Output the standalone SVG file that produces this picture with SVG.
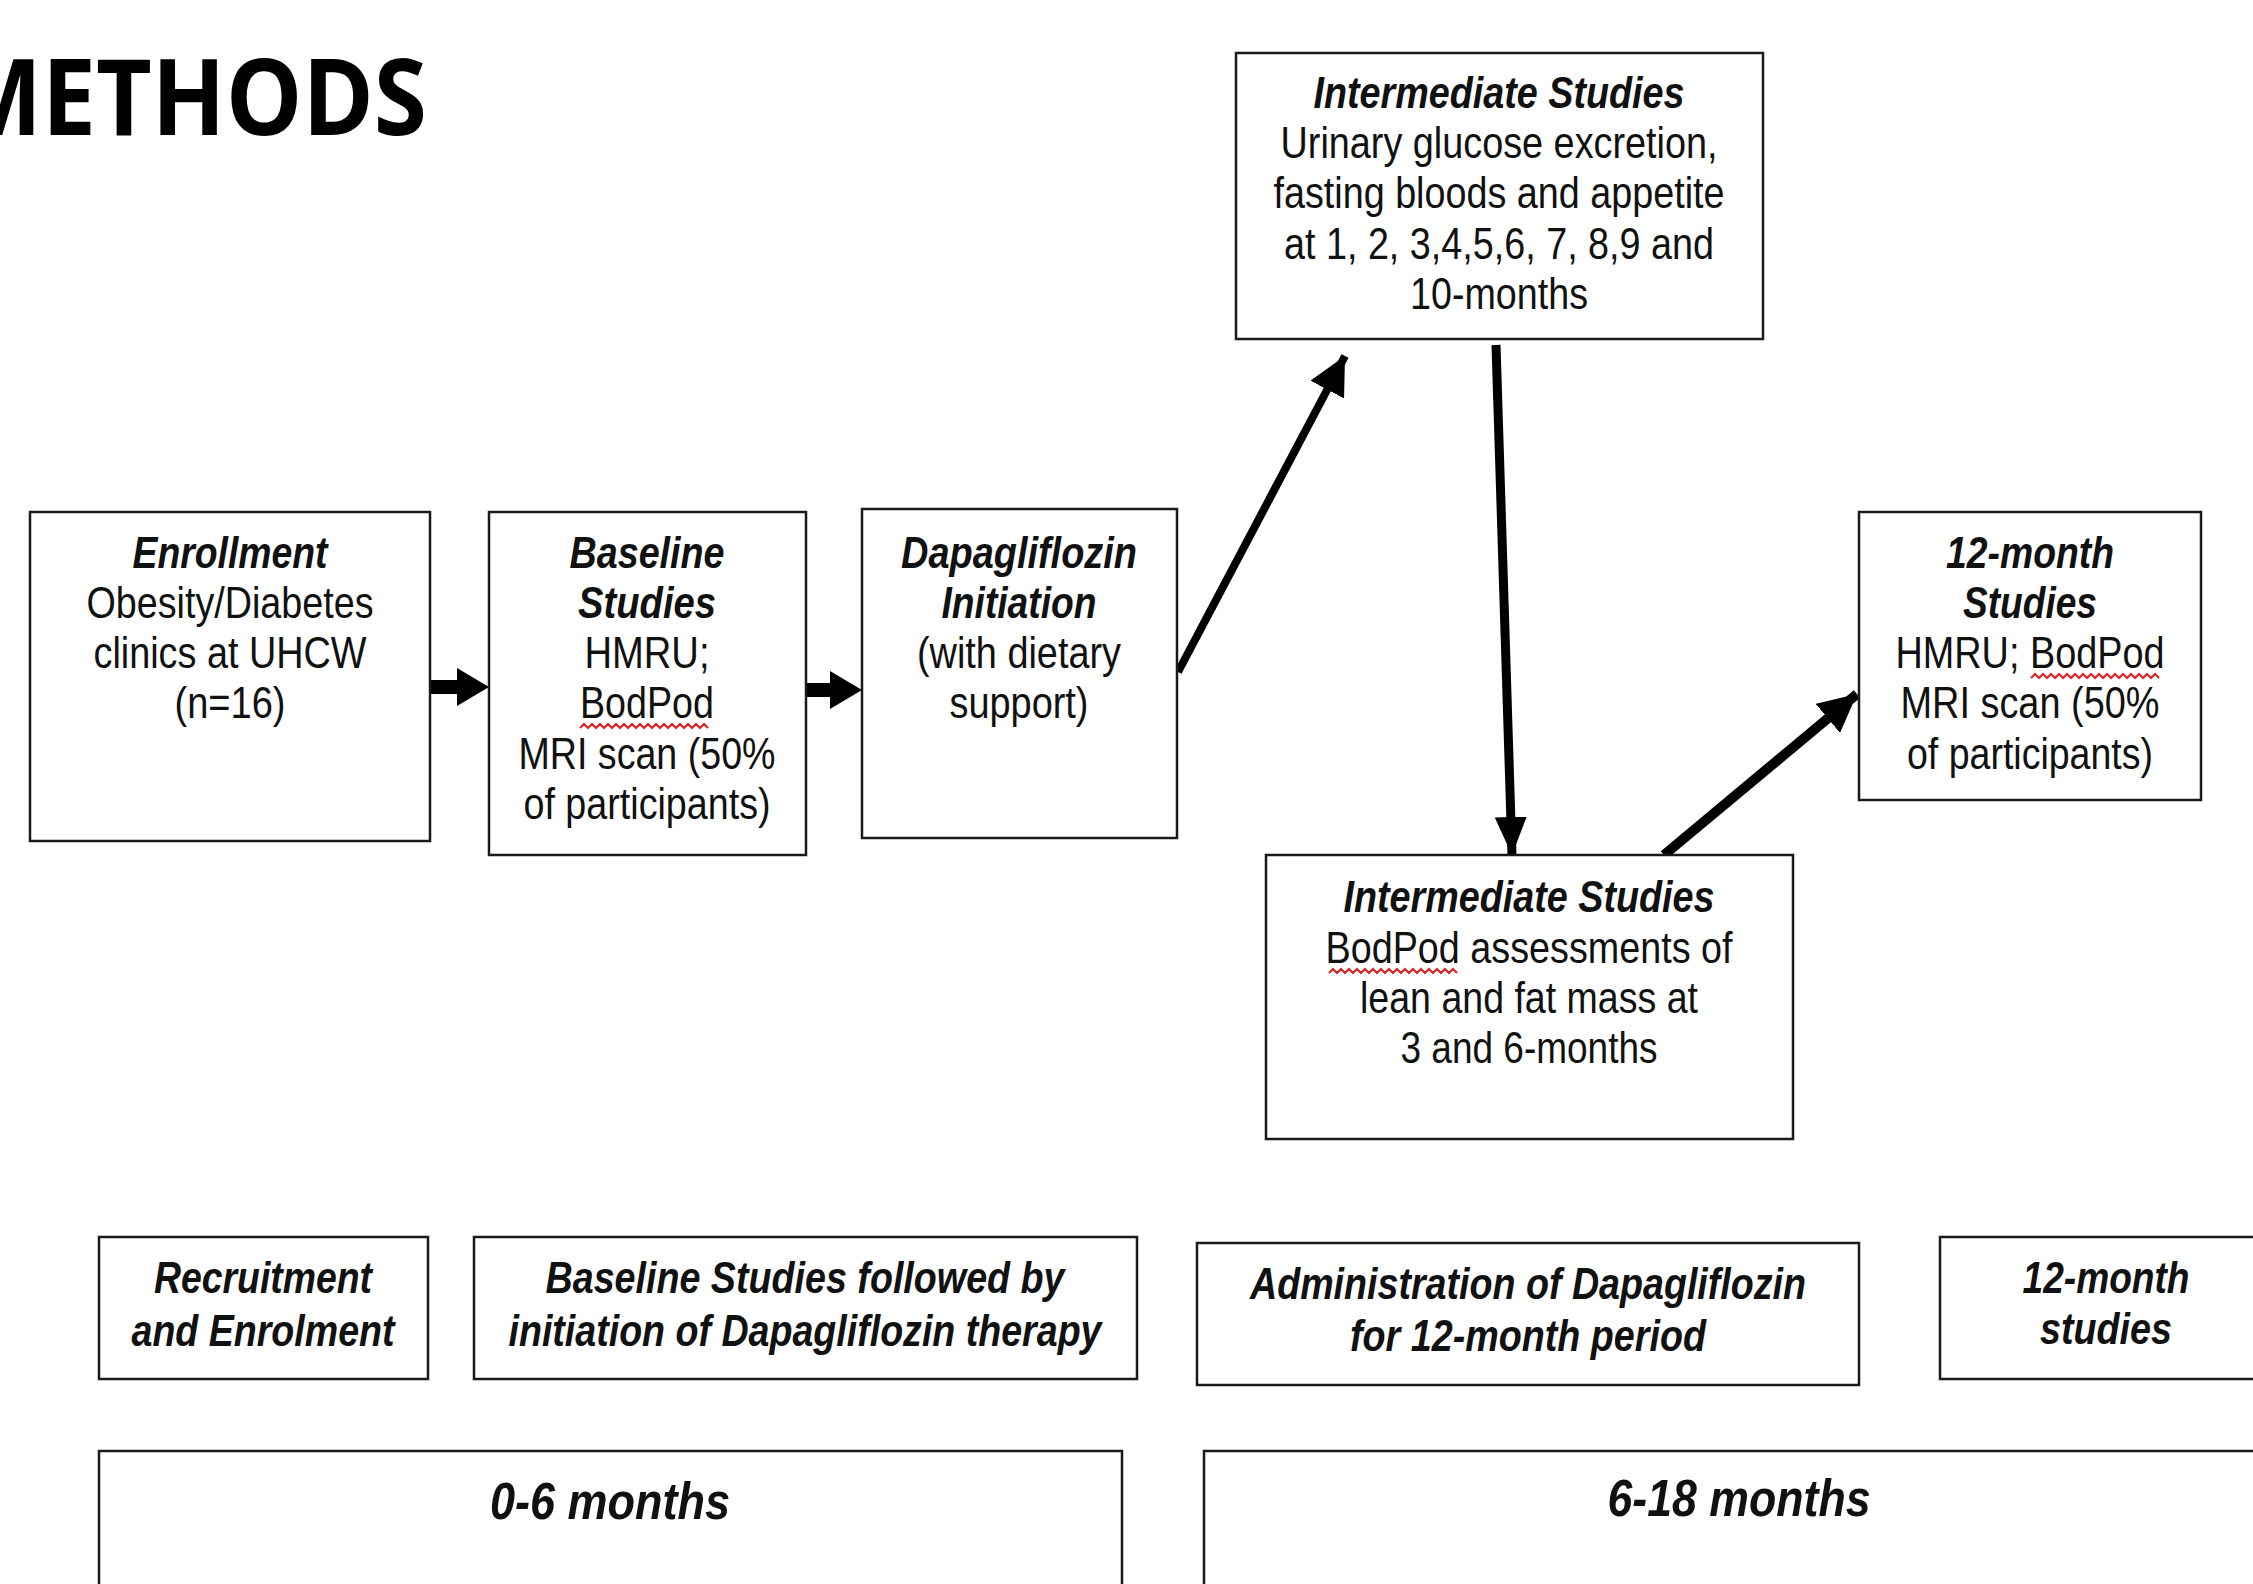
<svg xmlns="http://www.w3.org/2000/svg" width="2253" height="1584" viewBox="0 0 2253 1584">
<defs>
<style>
.box{fill:#fff;stroke:#1a1a1a;stroke-width:2.5}
.t{font-family:"Liberation Sans",Arial,sans-serif;font-size:44px;fill:#111;text-anchor:middle}
.h{font-weight:bold;font-style:italic}
.b{font-family:"Liberation Sans",Arial,sans-serif;font-size:44px;font-weight:bold;font-style:italic;fill:#111;text-anchor:middle}
.big{font-size:52px}
.sq{fill:none;stroke:#e02020;stroke-width:2}
.conn{stroke:#000;fill:none}
</style>
<marker id="ah" markerUnits="userSpaceOnUse" markerWidth="40" markerHeight="38" refX="38" refY="19" orient="auto" viewBox="0 0 40 38">
<path d="M0,0 L38,19 L0,38 Z" fill="#000"/>
</marker>
<marker id="ahn" markerUnits="userSpaceOnUse" markerWidth="40" markerHeight="32" refX="38" refY="16" orient="auto" viewBox="0 0 40 32">
<path d="M0,0 L38,16 L0,32 Z" fill="#000"/>
</marker>
</defs>
<rect width="2253" height="1584" fill="#fff"/>
<text x="-49" y="135" font-family="'Open Sans',sans-serif" font-weight="bold" font-size="106" textLength="476" lengthAdjust="spacingAndGlyphs" fill="#000">METHODS</text>

<g id="connectors">
<polygon points="430,680 457,680 457,668 489,687 457,706 457,694 430,694" fill="#000"/>
<polygon points="806,683 830,683 830,671 862,690 830,709 830,697 806,697" fill="#000"/>
<line class="conn" x1="1178" y1="672" x2="1345" y2="356" stroke-width="8" marker-end="url(#ah)"/>
<line class="conn" x1="1496" y1="345" x2="1512" y2="855" stroke-width="9" marker-end="url(#ahn)"/>
<line class="conn" x1="1664" y1="855" x2="1857" y2="694" stroke-width="10" marker-end="url(#ah)"/>
</g>

<g id="enrollment">
<rect class="box" x="30" y="512" width="400" height="329"/>
<text class="t h" x="230" y="568" textLength="195" lengthAdjust="spacingAndGlyphs">Enrollment</text>
<text class="t" x="230" y="618" textLength="287" lengthAdjust="spacingAndGlyphs">Obesity/Diabetes</text>
<text class="t" x="230" y="668" textLength="273" lengthAdjust="spacingAndGlyphs">clinics at UHCW</text>
<text class="t" x="230" y="718" textLength="111" lengthAdjust="spacingAndGlyphs">(n=16)</text>
</g>

<g id="baseline">
<rect class="box" x="489" y="512" width="317" height="343"/>
<text class="t h" x="647" y="568" textLength="155" lengthAdjust="spacingAndGlyphs">Baseline</text>
<text class="t h" x="647" y="618" textLength="138" lengthAdjust="spacingAndGlyphs">Studies</text>
<text class="t" x="647" y="668" textLength="125" lengthAdjust="spacingAndGlyphs">HMRU;</text>
<text class="t" x="647" y="718" textLength="134" lengthAdjust="spacingAndGlyphs">BodPod</text>
<path class="sq" d="M580,728 l4,-4 l4,4 l4,-4 l4,4 l4,-4 l4,4 l4,-4 l4,4 l4,-4 l4,4 l4,-4 l4,4 l4,-4 l4,4 l4,-4 l4,4 l4,-4 l4,4 l4,-4 l4,4 l4,-4 l4,4 l4,-4 l4,4 l4,-4 l4,4 l4,-4 l4,4 l4,-4 l4,4 l4,-4 l4,4"/>
<text class="t" x="647" y="769" textLength="257" lengthAdjust="spacingAndGlyphs">MRI scan (50%</text>
<text class="t" x="647" y="819" textLength="247" lengthAdjust="spacingAndGlyphs">of participants)</text>
</g>

<g id="dapagliflozin">
<rect class="box" x="862" y="509" width="315" height="329"/>
<text class="t h" x="1019" y="568" textLength="236" lengthAdjust="spacingAndGlyphs">Dapagliflozin</text>
<text class="t h" x="1019" y="618" textLength="155" lengthAdjust="spacingAndGlyphs">Initiation</text>
<text class="t" x="1019" y="668" textLength="204" lengthAdjust="spacingAndGlyphs">(with dietary</text>
<text class="t" x="1019" y="718" textLength="139" lengthAdjust="spacingAndGlyphs">support)</text>
</g>

<g id="intermediate-top">
<rect class="box" x="1236" y="53" width="527" height="286"/>
<text class="t h" x="1499" y="108" textLength="371" lengthAdjust="spacingAndGlyphs">Intermediate Studies</text>
<text class="t" x="1499" y="158" textLength="437" lengthAdjust="spacingAndGlyphs">Urinary glucose excretion,</text>
<text class="t" x="1499" y="208" textLength="451" lengthAdjust="spacingAndGlyphs">fasting bloods and appetite</text>
<text class="t" x="1499" y="259" textLength="430" lengthAdjust="spacingAndGlyphs">at 1, 2, 3,4,5,6, 7, 8,9 and</text>
<text class="t" x="1499" y="309" textLength="178" lengthAdjust="spacingAndGlyphs">10-months</text>
</g>

<g id="twelve-month">
<rect class="box" x="1859" y="512" width="342" height="288"/>
<text class="t h" x="2030" y="568" textLength="168" lengthAdjust="spacingAndGlyphs">12-month</text>
<text class="t h" x="2030" y="618" textLength="134" lengthAdjust="spacingAndGlyphs">Studies</text>
<text class="t" x="2030" y="668" textLength="269" lengthAdjust="spacingAndGlyphs">HMRU; BodPod</text>
<path class="sq" d="M2031,678 l4,-4 l4,4 l4,-4 l4,4 l4,-4 l4,4 l4,-4 l4,4 l4,-4 l4,4 l4,-4 l4,4 l4,-4 l4,4 l4,-4 l4,4 l4,-4 l4,4 l4,-4 l4,4 l4,-4 l4,4 l4,-4 l4,4 l4,-4 l4,4 l4,-4 l4,4 l4,-4 l4,4 l4,-4 l4,4"/>
<text class="t" x="2030" y="718" textLength="259" lengthAdjust="spacingAndGlyphs">MRI scan (50%</text>
<text class="t" x="2030" y="769" textLength="246" lengthAdjust="spacingAndGlyphs">of participants)</text>
</g>

<g id="intermediate-bottom">
<rect class="box" x="1266" y="855" width="527" height="284"/>
<text class="t h" x="1529" y="912" textLength="371" lengthAdjust="spacingAndGlyphs">Intermediate Studies</text>
<text class="t" x="1529" y="963" textLength="407" lengthAdjust="spacingAndGlyphs">BodPod assessments of</text>
<path class="sq" d="M1329,973 l4,-4 l4,4 l4,-4 l4,4 l4,-4 l4,4 l4,-4 l4,4 l4,-4 l4,4 l4,-4 l4,4 l4,-4 l4,4 l4,-4 l4,4 l4,-4 l4,4 l4,-4 l4,4 l4,-4 l4,4 l4,-4 l4,4 l4,-4 l4,4 l4,-4 l4,4 l4,-4 l4,4 l4,-4 l4,4"/>
<text class="t" x="1529" y="1013" textLength="338" lengthAdjust="spacingAndGlyphs">lean and fat mass at</text>
<text class="t" x="1529" y="1063" textLength="257" lengthAdjust="spacingAndGlyphs">3 and 6-months</text>
</g>

<g id="recruitment">
<rect class="box" x="99" y="1237" width="329" height="142"/>
<text class="b" x="263" y="1293" textLength="218" lengthAdjust="spacingAndGlyphs">Recruitment</text>
<text class="b" x="263" y="1346" textLength="263" lengthAdjust="spacingAndGlyphs">and Enrolment</text>
</g>

<g id="baseline-phase">
<rect class="box" x="474" y="1237" width="663" height="142"/>
<text class="b" x="805" y="1293" textLength="519" lengthAdjust="spacingAndGlyphs">Baseline Studies followed by</text>
<text class="b" x="805" y="1346" textLength="593" lengthAdjust="spacingAndGlyphs">initiation of Dapagliflozin therapy</text>
</g>

<g id="administration">
<rect class="box" x="1197" y="1243" width="662" height="142"/>
<text class="b" x="1528" y="1299" textLength="556" lengthAdjust="spacingAndGlyphs">Administration of Dapagliflozin</text>
<text class="b" x="1528" y="1351" textLength="356" lengthAdjust="spacingAndGlyphs">for 12-month period</text>
</g>

<g id="twelve-month-studies">
<rect class="box" x="1940" y="1237" width="340" height="142"/>
<text class="b" x="2106" y="1293" textLength="167" lengthAdjust="spacingAndGlyphs">12-month</text>
<text class="b" x="2106" y="1344" textLength="132" lengthAdjust="spacingAndGlyphs">studies</text>
</g>

<g id="period-0-6">
<rect class="box" x="99" y="1451" width="1023" height="160"/>
<text class="b big" x="610" y="1519" textLength="240" lengthAdjust="spacingAndGlyphs">0-6 months</text>
</g>

<g id="period-6-18">
<rect class="box" x="1204" y="1451" width="1080" height="160"/>
<text class="b big" x="1739" y="1516" textLength="263" lengthAdjust="spacingAndGlyphs">6-18 months</text>
</g>
</svg>
